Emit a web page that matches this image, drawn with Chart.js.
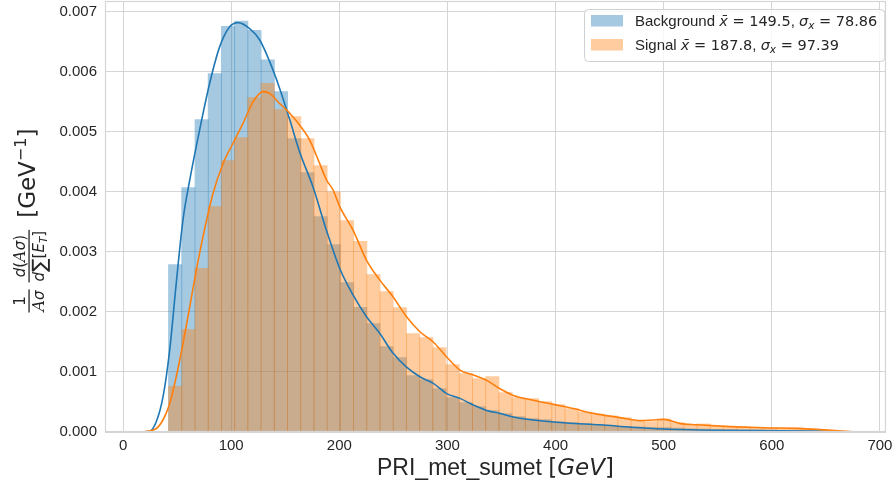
<!DOCTYPE html>
<html>
<head>
<meta charset="utf-8">
<script src="https://cdn.jsdelivr.net/npm/chart.js@4.4.1/dist/chart.umd.min.js"></script>
<style>
  html, body { margin: 0; padding: 0; background: #fff; }
  canvas { display: block; }
</style>
</head>
<body>
<canvas id="chart" width="896" height="488"></canvas>
<script>
// histogram bin centres (GeV)
const binCenters = [
  48.2, 60.4, 72.7, 84.9, 97.1, 109.3, 121.5, 133.8, 146.0, 158.2,
  170.4, 182.6, 194.9, 207.1, 219.3, 231.5, 243.7, 256.0, 268.2, 280.4,
  292.6, 304.8, 317.1, 329.3, 341.5, 353.7, 365.9, 378.2, 390.4, 402.6,
  414.8, 427.0, 439.3, 451.5, 463.7, 475.9, 488.1, 500.4, 512.6, 524.8,
  537.0, 549.2, 561.5, 573.7, 585.9, 598.1, 610.3, 622.6, 634.8, 647.0,
  659.2, 671.4
];

const backgroundHist = [
  0.002795, 0.004078, 0.005212, 0.005978, 0.006762, 0.006850, 0.006695, 0.006206, 0.005678, 0.004895,
  0.004328, 0.003595, 0.003128, 0.002495, 0.002083, 0.001812, 0.001428, 0.001245, 0.000945, 0.000878,
  0.000728, 0.000578, 0.000495, 0.000428, 0.000362, 0.000312, 0.000262, 0.000228, 0.000212, 0.000178,
  0.000162, 0.000145, 0.000125, 0.000110, 0.000100, 0.000090, 0.000080, 0.000080, 0.000070, 0.000060,
  0.000055, 0.000050, 0.000045, 0.000040, 0.000040, 0.000035, 0.000030, 0.000025, 0.000020, 0.000015,
  0.000010, 0.000005
];

const signalHist = [
  0.000767, 0.001712, 0.002733, 0.003762, 0.004528, 0.004912, 0.005578, 0.005812, 0.005378, 0.005262,
  0.004895, 0.004445, 0.004006, 0.003528, 0.003183, 0.002628, 0.002345, 0.002078, 0.001645, 0.001578,
  0.001412, 0.001128, 0.000978, 0.000895, 0.000928, 0.000662, 0.000578, 0.000562, 0.000512, 0.000462,
  0.000395, 0.000340, 0.000295, 0.000273, 0.000245, 0.000200, 0.000178, 0.000223, 0.000162, 0.000133,
  0.000140, 0.000100, 0.000090, 0.000090, 0.000078, 0.000078, 0.000073, 0.000073, 0.000050, 0.000040,
  0.000017, 0.000010
];

// kde curves
const backgroundKdeX = [
  15, 24.5, 30.7, 36.9, 43.1, 49.2, 55.4, 61.6, 70.8, 80.1,
  89.4, 98.6, 106.3, 117.1, 126.4, 135.6, 144.9, 154.2, 163.4, 175.7,
  188.1, 200.5, 212.8, 225.2, 237.5, 249.8, 262.2, 274.5, 286.9, 299.3,
  311.6, 323.9, 336.3, 348.6, 360.9, 379.4, 410.4, 441.2, 470, 500,
  546, 608, 660
];
const backgroundKdeY = [
  0, 0.00001, 0.00017, 0.00058, 0.00136, 0.00248, 0.00353, 0.00419, 0.00503, 0.00581,
  0.00642, 0.00675, 0.00682, 0.00672, 0.00653, 0.00617, 0.00572, 0.00520, 0.00466, 0.00408,
  0.00336, 0.00272, 0.00228, 0.00192, 0.00164, 0.00131, 0.00108, 0.00092, 0.00081, 0.00064,
  0.00056, 0.00045, 0.00036, 0.00031, 0.00025, 0.00020, 0.00015, 0.00012, 0.00008, 0.00005,
  0.00003, 0.00002, 0.00001
];

const signalKdeX = [
  15, 29.2, 36.9, 43.1, 49.2, 55.4, 61.6, 67.8, 73.9, 83.1,
  92.4, 101.7, 110.9, 120.2, 129.4, 135.6, 144.9, 154.2, 163.4, 172.7,
  181.9, 188.1, 194.3, 200.5, 212.8, 225.2, 237.5, 249.8, 262.2, 274.5,
  286.9, 299.3, 311.6, 323.9, 336.3, 348.6, 360.9, 379.4, 397.9, 416.4,
  434.9, 459.7, 478.2, 490, 500, 515.3, 530.7, 561.6, 592.4, 623.3,
  644.9, 669.6, 677
];
const signalKdeY = [
  0, 0.00004, 0.00020, 0.00047, 0.00092, 0.00147, 0.00208, 0.00270, 0.00325, 0.00397,
  0.00447, 0.00481, 0.00514, 0.00550, 0.00567, 0.00564, 0.00547, 0.00531, 0.00511, 0.00486,
  0.00447, 0.00420, 0.00403, 0.00375, 0.00336, 0.00286, 0.00253, 0.00225, 0.00192, 0.00167,
  0.00150, 0.00125, 0.00103, 0.00095, 0.00086, 0.00072, 0.00061, 0.00053, 0.00046, 0.00039,
  0.00031, 0.00024, 0.00019, 0.00020, 0.00021, 0.00014, 0.00012, 0.00009, 0.00007, 0.00006,
  0.00004, 0.00001, 0
];

const xTicks = [0, 100, 200, 300, 400, 500, 600, 700];
const yTicks = [0, 0.001, 0.002, 0.003, 0.004, 0.005, 0.006, 0.007];

const seriesNames = ['Background', 'Signal'];
const seriesMeans = ['149.5', '187.8'];
const seriesSigmas = ['78.86', '97.39'];

const BLUE = '#1f77b4';
const ORANGE = '#ff7f0e';
const SANS = '"Liberation Sans", Arial, sans-serif';
const MATH = '"DejaVu Sans", sans-serif';
const TEXT = '#262626';
const GRID = '#d5d5d5';

function points(xs, ys) {
  return xs.map((x, i) => ({ x: x, y: ys[i] }));
}

function drawRuns(ctx, runs, x, y, measureOnly) {
  for (const r of runs) {
    ctx.font = r.font;
    if (!measureOnly) ctx.fillText(r.text, x, y + (r.dy || 0));
    x += ctx.measureText(r.text).width;
  }
  return x;
}

function runsWidth(ctx, runs) {
  return drawRuns(ctx, runs, 0, 0, true);
}

function drawFrac(ctx, x, num, den) {
  const wn = runsWidth(ctx, num);
  const wd = runsWidth(ctx, den);
  const w = Math.max(wn, wd) + 2;
  drawRuns(ctx, num, x + (w - wn) / 2, -4);
  drawRuns(ctx, den, x + (w - wd) / 2, 15);
  ctx.fillRect(x, -0.6, w, 1.3);
  return x + w;
}

const framePlugin = {
  id: 'frame',
  afterDatasetsDraw(chart) {
    const { ctx, chartArea: a } = chart;
    ctx.save();
    ctx.strokeStyle = GRID;
    ctx.lineWidth = 1.2;
    ctx.strokeRect(a.left + 0.5, a.top + 0.5, a.right - a.left - 1, a.bottom - a.top - 1);
    ctx.restore();
  }
};

const textPlugin = {
  id: 'texts',
  afterDraw(chart) {
    const { ctx, chartArea: a } = chart;
    ctx.save();
    ctx.fillStyle = TEXT;
    ctx.textBaseline = 'alphabetic';

    // x axis title
    const xRuns = [
      { text: 'PRI_met_sumet ', font: '23px ' + SANS },
      { text: '[', font: '23px ' + MATH },
      { text: 'GeV', font: 'italic 23px ' + MATH },
      { text: ']', font: '23px ' + MATH }
    ];
    const xw = runsWidth(ctx, xRuns);
    drawRuns(ctx, xRuns, (a.left + a.right) / 2 - xw / 2, 475);

    // y axis title, rotated
    ctx.save();
    ctx.translate(29, (a.top + a.bottom) / 2);
    ctx.rotate(-Math.PI / 2);
    const it = 'italic 15px ' + MATH;
    const rm = '15px ' + MATH;
    const scriptA = 'italic 16px "DejaVu Serif", serif';
    let px = -96;
    px = drawFrac(ctx, px,
      [{ text: '1', font: rm }],
      [{ text: 'A', font: scriptA }, { text: '\u03C3', font: it }]);
    px += 7;
    px = drawFrac(ctx, px,
      [{ text: 'd', font: it }, { text: '(', font: rm }, { text: 'A', font: scriptA }, { text: '\u03C3', font: it }, { text: ')', font: rm }],
      [{ text: 'd', font: it }, { text: '\u2211', font: '20px ' + MATH, dy: 2 }, { text: '[', font: rm },
       { text: 'E', font: it }, { text: 'T', font: 'italic 10.5px ' + MATH, dy: 3 }, { text: ']', font: rm }]);
    px += 12;
    drawRuns(ctx, [
      { text: '[GeV', font: '23px ' + MATH },
      { text: '\u22121', font: '16px ' + MATH, dy: -9 },
      { text: ']', font: '23px ' + MATH }
    ], px, 6);
    ctx.restore();

    // legend
    const boxX = 584, boxY = 9;
    const textX = 635;
    const rowsY = [26, 50];
    const colors = ['rgba(31,119,180,0.4)', 'rgba(255,127,14,0.4)'];
    const word = '15px ' + SANS;
    const mrm = '14.5px ' + MATH;
    const mit = 'italic 14.5px ' + MATH;
    const rows = seriesNames.map((name, i) => [
      { text: name + ' ', font: word },
      { text: 'x\u0304', font: mit },
      { text: ' = ' + seriesMeans[i], font: mrm },
      { text: ', ', font: word },
      { text: '\u03C3', font: mit },
      { text: 'x', font: 'italic 10.5px ' + MATH, dy: 3 },
      { text: ' = ' + seriesSigmas[i], font: mrm }
    ]);
    let maxW = 0;
    rows.forEach(r => { maxW = Math.max(maxW, runsWidth(ctx, r)); });
    const boxW = textX + maxW + 7 - boxX;
    ctx.fillStyle = 'rgba(255,255,255,0.8)';
    ctx.strokeStyle = '#d0d0d0';
    ctx.lineWidth = 1;
    ctx.beginPath();
    ctx.roundRect(boxX + 0.5, boxY + 0.5, boxW, 52, 4);
    ctx.fill();
    ctx.stroke();
    rows.forEach((r, i) => {
      ctx.fillStyle = colors[i];
      ctx.fillRect(591, rowsY[i] - 11, 32, 11.5);
      ctx.fillStyle = TEXT;
      drawRuns(ctx, r, textX, rowsY[i]);
    });
    ctx.restore();
  }
};

const barStyle = {
  type: 'bar',
  grouped: false,
  barPercentage: 1.07,
  categoryPercentage: 1,
  borderWidth: 0
};

// eslint-disable-next-line
const chart = new Chart(document.getElementById('chart'), {
  data: {
    datasets: [
      {
        type: 'line',
        label: seriesNames[0] + ' KDE',
        data: points(backgroundKdeX, backgroundKdeY),
        borderColor: BLUE,
        borderWidth: 1.6,
        pointRadius: 0,
        cubicInterpolationMode: 'monotone',
        order: 1
      },
      {
        type: 'line',
        label: seriesNames[1] + ' KDE',
        data: points(signalKdeX, signalKdeY),
        borderColor: ORANGE,
        borderWidth: 1.6,
        pointRadius: 0,
        cubicInterpolationMode: 'monotone',
        order: 0
      },
      Object.assign({}, barStyle, {
        label: seriesNames[1],
        data: points(binCenters, signalHist),
        backgroundColor: 'rgba(255,127,14,0.4)',
        order: 2
      }),
      Object.assign({}, barStyle, {
        label: seriesNames[0],
        data: points(binCenters, backgroundHist),
        backgroundColor: 'rgba(31,119,180,0.4)',
        order: 3
      })
    ]
  },
  options: {
    responsive: false,
    animation: false,
    layout: { padding: { top: 1, right: 10, left: 0, bottom: 0 } },
    plugins: {
      legend: { display: false },
      tooltip: { enabled: false }
    },
    scales: {
      x: {
        type: 'linear',
        offset: false,
        min: -16.7,
        max: 705.6,
        afterBuildTicks: s => { s.ticks = xTicks.map(v => ({ value: v })); },
        afterFit: s => { s.height = 56; s.paddingLeft = 0; s.paddingRight = 0; },
        ticks: {
          font: { family: SANS, size: 15 },
          color: TEXT,
          padding: 5,
          maxRotation: 0
        },
        grid: { color: GRID, lineWidth: 1, drawTicks: false, offset: false },
        border: { display: false }
      },
      y: {
        type: 'linear',
        min: 0,
        max: 0.00718,
        afterBuildTicks: s => { s.ticks = yTicks.map(v => ({ value: v })); },
        afterFit: s => { s.width = 105; s.paddingTop = 0; s.paddingBottom = 0; },
        ticks: {
          font: { family: SANS, size: 15 },
          color: TEXT,
          padding: 8,
          callback: v => v.toFixed(3)
        },
        grid: { color: GRID, lineWidth: 1, drawTicks: false },
        border: { display: false }
      }
    }
  },
  plugins: [framePlugin, textPlugin]
});
</script>
</body>
</html>
